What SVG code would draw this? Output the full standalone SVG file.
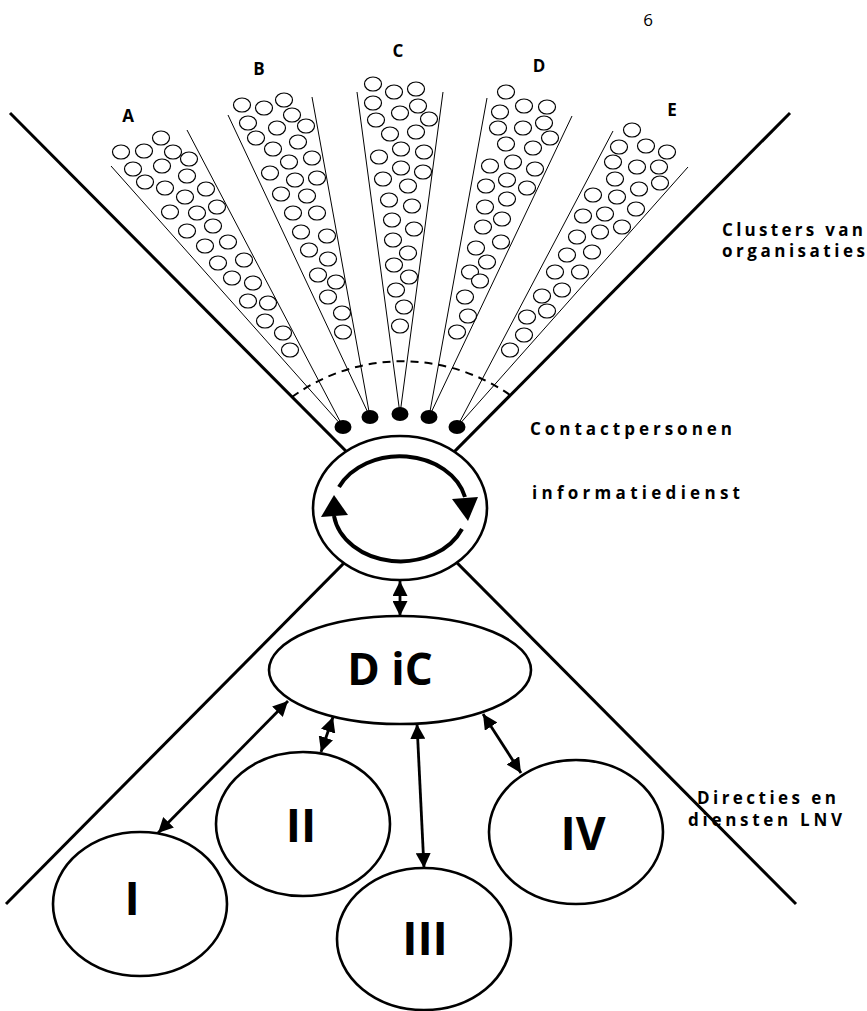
<svg xmlns="http://www.w3.org/2000/svg" width="867" height="1011" viewBox="0 0 867 1011">
<style>
  .big{stroke:#000;stroke-width:3;fill:none}
  .cone{stroke:#000;stroke-width:1;fill:none}
  .o{fill:#fff;stroke:#000;stroke-width:1.2}
  .dot{fill:#000}
  .node{fill:#fff;stroke:#000;stroke-width:2.6}
  .arr{stroke:#000;stroke-width:2.8;fill:none;marker-start:url(#ah);marker-end:url(#ah)}
  .lbl{font-family:"Open Sans","Liberation Sans",sans-serif;font-weight:bold;fill:#000}
  .side{font-size:17px}
  .letter{font-size:17px;text-anchor:middle}
  .roman{font-size:46px;text-anchor:middle}
</style>
<defs>
  <marker id="ah" viewBox="0 0 15 15" refX="15" refY="7.5" markerWidth="15" markerHeight="15" markerUnits="userSpaceOnUse" orient="auto-start-reverse">
    <path d="M0,0 L15,7.5 L0,15 z" fill="#000"/>
  </marker>
</defs>
<rect width="867" height="1011" fill="#fff"/>
<text class="lbl" x="648" y="26" style="font-size:17px;font-weight:normal;text-anchor:middle">6</text>

<g id="boundary">
  <line class="big" x1="10" y1="113" x2="796" y2="904"/>
  <line class="big" x1="790" y1="113" x2="6" y2="904"/>
</g>

<g id="cluster-A">
  <line class="cone" x1="111" y1="166" x2="343" y2="427"/>
  <line class="cone" x1="187" y1="130" x2="343" y2="427"/>
  <g>
    <ellipse class="o" cx="161" cy="138" rx="8.5" ry="7"/><ellipse class="o" cx="121" cy="152" rx="8.5" ry="7"/><ellipse class="o" cx="144" cy="151" rx="8.5" ry="7"/><ellipse class="o" cx="173" cy="152" rx="8.5" ry="7"/><ellipse class="o" cx="189" cy="159" rx="8.5" ry="7"/><ellipse class="o" cx="133" cy="169" rx="8.5" ry="7"/><ellipse class="o" cx="162" cy="166" rx="8.5" ry="7"/><ellipse class="o" cx="187" cy="176" rx="8.5" ry="7"/><ellipse class="o" cx="145" cy="182" rx="8.5" ry="7"/><ellipse class="o" cx="165" cy="188" rx="8.5" ry="7"/><ellipse class="o" cx="185" cy="197" rx="8.5" ry="7"/><ellipse class="o" cx="206" cy="189" rx="8.5" ry="7"/><ellipse class="o" cx="217" cy="207" rx="8.5" ry="7"/><ellipse class="o" cx="170" cy="212" rx="8.5" ry="7"/><ellipse class="o" cx="197" cy="213" rx="8.5" ry="7"/><ellipse class="o" cx="187" cy="231" rx="8.5" ry="7"/><ellipse class="o" cx="213" cy="226" rx="8.5" ry="7"/><ellipse class="o" cx="205" cy="246" rx="8.5" ry="7"/><ellipse class="o" cx="228" cy="242" rx="8.5" ry="7"/><ellipse class="o" cx="218" cy="263" rx="8.5" ry="7"/><ellipse class="o" cx="244" cy="260" rx="8.5" ry="7"/><ellipse class="o" cx="232" cy="278" rx="8.5" ry="7"/><ellipse class="o" cx="253" cy="283" rx="8.5" ry="7"/><ellipse class="o" cx="248" cy="301" rx="8.5" ry="7"/><ellipse class="o" cx="268" cy="303" rx="8.5" ry="7"/><ellipse class="o" cx="265" cy="321" rx="8.5" ry="7"/><ellipse class="o" cx="283" cy="333" rx="8.5" ry="7"/><ellipse class="o" cx="290" cy="350" rx="8.5" ry="7"/>
  </g>
  <ellipse class="dot" cx="343" cy="427" rx="8.5" ry="7"/>
  <text class="lbl letter" x="128" y="122">A</text>
</g>

<g id="cluster-B">
  <line class="cone" x1="228" y1="115" x2="370" y2="417"/>
  <line class="cone" x1="312" y1="97" x2="370" y2="417"/>
  <g>
    <ellipse class="o" cx="242" cy="105" rx="8.5" ry="7"/><ellipse class="o" cx="264" cy="108" rx="8.5" ry="7"/><ellipse class="o" cx="284" cy="100" rx="8.5" ry="7"/><ellipse class="o" cx="248" cy="123" rx="8.5" ry="7"/><ellipse class="o" cx="277" cy="128" rx="8.5" ry="7"/><ellipse class="o" cx="292" cy="115" rx="8.5" ry="7"/><ellipse class="o" cx="306" cy="126" rx="8.5" ry="7"/><ellipse class="o" cx="256" cy="138" rx="8.5" ry="7"/><ellipse class="o" cx="298" cy="142" rx="8.5" ry="7"/><ellipse class="o" cx="273" cy="149" rx="8.5" ry="7"/><ellipse class="o" cx="289" cy="162" rx="8.5" ry="7"/><ellipse class="o" cx="312" cy="158" rx="8.5" ry="7"/><ellipse class="o" cx="270" cy="173" rx="8.5" ry="7"/><ellipse class="o" cx="295" cy="180" rx="8.5" ry="7"/><ellipse class="o" cx="317" cy="178" rx="8.5" ry="7"/><ellipse class="o" cx="281" cy="194" rx="8.5" ry="7"/><ellipse class="o" cx="307" cy="196" rx="8.5" ry="7"/><ellipse class="o" cx="293" cy="213" rx="8.5" ry="7"/><ellipse class="o" cx="317" cy="213" rx="8.5" ry="7"/><ellipse class="o" cx="301" cy="232" rx="8.5" ry="7"/><ellipse class="o" cx="327" cy="236" rx="8.5" ry="7"/><ellipse class="o" cx="309" cy="250" rx="8.5" ry="7"/><ellipse class="o" cx="328" cy="259" rx="8.5" ry="7"/><ellipse class="o" cx="318" cy="275" rx="8.5" ry="7"/><ellipse class="o" cx="336" cy="282" rx="8.5" ry="7"/><ellipse class="o" cx="328" cy="297" rx="8.5" ry="7"/><ellipse class="o" cx="342" cy="313" rx="8.5" ry="7"/><ellipse class="o" cx="343" cy="332" rx="8.5" ry="7"/>
  </g>
  <ellipse class="dot" cx="370" cy="417" rx="8.5" ry="7"/>
  <text class="lbl letter" x="259" y="75">B</text>
</g>

<g id="cluster-C">
  <line class="cone" x1="357" y1="92" x2="400" y2="414"/>
  <line class="cone" x1="443" y1="92" x2="400" y2="414"/>
  <g>
    <ellipse class="o" cx="373" cy="84" rx="8.5" ry="7"/><ellipse class="o" cx="394" cy="92" rx="8.5" ry="7"/><ellipse class="o" cx="416" cy="89" rx="8.5" ry="7"/><ellipse class="o" cx="373" cy="103" rx="8.5" ry="7"/><ellipse class="o" cx="400" cy="113" rx="8.5" ry="7"/><ellipse class="o" cx="418" cy="106" rx="8.5" ry="7"/><ellipse class="o" cx="376" cy="120" rx="8.5" ry="7"/><ellipse class="o" cx="429" cy="119" rx="8.5" ry="7"/><ellipse class="o" cx="390" cy="134" rx="8.5" ry="7"/><ellipse class="o" cx="416" cy="132" rx="8.5" ry="7"/><ellipse class="o" cx="401" cy="149" rx="8.5" ry="7"/><ellipse class="o" cx="424" cy="152" rx="8.5" ry="7"/><ellipse class="o" cx="379" cy="157" rx="8.5" ry="7"/><ellipse class="o" cx="401" cy="168" rx="8.5" ry="7"/><ellipse class="o" cx="423" cy="172" rx="8.5" ry="7"/><ellipse class="o" cx="383" cy="179" rx="8.5" ry="7"/><ellipse class="o" cx="408" cy="186" rx="8.5" ry="7"/><ellipse class="o" cx="389" cy="200" rx="8.5" ry="7"/><ellipse class="o" cx="412" cy="206" rx="8.5" ry="7"/><ellipse class="o" cx="392" cy="220" rx="8.5" ry="7"/><ellipse class="o" cx="414" cy="229" rx="8.5" ry="7"/><ellipse class="o" cx="393" cy="240" rx="8.5" ry="7"/><ellipse class="o" cx="408" cy="253" rx="8.5" ry="7"/><ellipse class="o" cx="394" cy="265" rx="8.5" ry="7"/><ellipse class="o" cx="409" cy="277" rx="8.5" ry="7"/><ellipse class="o" cx="396" cy="290" rx="8.5" ry="7"/><ellipse class="o" cx="404" cy="307" rx="8.5" ry="7"/><ellipse class="o" cx="400" cy="326" rx="8.5" ry="7"/>
  </g>
  <ellipse class="dot" cx="400" cy="414" rx="8.5" ry="7"/>
  <text class="lbl letter" x="398" y="57">C</text>
</g>

<g id="cluster-D">
  <line class="cone" x1="487" y1="98" x2="429" y2="417"/>
  <line class="cone" x1="572" y1="116" x2="429" y2="417"/>
  <g>
    <ellipse class="o" cx="506" cy="92" rx="8.5" ry="7"/><ellipse class="o" cx="524" cy="106" rx="8.5" ry="7"/><ellipse class="o" cx="547" cy="107" rx="8.5" ry="7"/><ellipse class="o" cx="500" cy="112" rx="8.5" ry="7"/><ellipse class="o" cx="523" cy="128" rx="8.5" ry="7"/><ellipse class="o" cx="544" cy="123" rx="8.5" ry="7"/><ellipse class="o" cx="498" cy="128" rx="8.5" ry="7"/><ellipse class="o" cx="550" cy="138" rx="8.5" ry="7"/><ellipse class="o" cx="506" cy="144" rx="8.5" ry="7"/><ellipse class="o" cx="533" cy="148" rx="8.5" ry="7"/><ellipse class="o" cx="490" cy="166" rx="8.5" ry="7"/><ellipse class="o" cx="513" cy="162" rx="8.5" ry="7"/><ellipse class="o" cx="535" cy="169" rx="8.5" ry="7"/><ellipse class="o" cx="486" cy="186" rx="8.5" ry="7"/><ellipse class="o" cx="507" cy="180" rx="8.5" ry="7"/><ellipse class="o" cx="527" cy="188" rx="8.5" ry="7"/><ellipse class="o" cx="485" cy="207" rx="8.5" ry="7"/><ellipse class="o" cx="507" cy="199" rx="8.5" ry="7"/><ellipse class="o" cx="483" cy="227" rx="8.5" ry="7"/><ellipse class="o" cx="502" cy="219" rx="8.5" ry="7"/><ellipse class="o" cx="476" cy="248" rx="8.5" ry="7"/><ellipse class="o" cx="501" cy="242" rx="8.5" ry="7"/><ellipse class="o" cx="487" cy="262" rx="8.5" ry="7"/><ellipse class="o" cx="470" cy="272" rx="8.5" ry="7"/><ellipse class="o" cx="480" cy="281" rx="8.5" ry="7"/><ellipse class="o" cx="465" cy="297" rx="8.5" ry="7"/><ellipse class="o" cx="468" cy="316" rx="8.5" ry="7"/><ellipse class="o" cx="457" cy="332" rx="8.5" ry="7"/>
  </g>
  <ellipse class="dot" cx="429" cy="417" rx="8.5" ry="7"/>
  <text class="lbl letter" x="539" y="72">D</text>
</g>

<g id="cluster-E">
  <line class="cone" x1="613" y1="131" x2="457" y2="427"/>
  <line class="cone" x1="688" y1="167" x2="457" y2="427"/>
  <g>
    <ellipse class="o" cx="632" cy="130" rx="8.5" ry="7"/><ellipse class="o" cx="619" cy="147" rx="8.5" ry="7"/><ellipse class="o" cx="646" cy="146" rx="8.5" ry="7"/><ellipse class="o" cx="667" cy="152" rx="8.5" ry="7"/><ellipse class="o" cx="613" cy="162" rx="8.5" ry="7"/><ellipse class="o" cx="637" cy="167" rx="8.5" ry="7"/><ellipse class="o" cx="659" cy="167" rx="8.5" ry="7"/><ellipse class="o" cx="615" cy="179" rx="8.5" ry="7"/><ellipse class="o" cx="639" cy="189" rx="8.5" ry="7"/><ellipse class="o" cx="660" cy="183" rx="8.5" ry="7"/><ellipse class="o" cx="593" cy="195" rx="8.5" ry="7"/><ellipse class="o" cx="617" cy="197" rx="8.5" ry="7"/><ellipse class="o" cx="636" cy="209" rx="8.5" ry="7"/><ellipse class="o" cx="583" cy="216" rx="8.5" ry="7"/><ellipse class="o" cx="605" cy="214" rx="8.5" ry="7"/><ellipse class="o" cx="622" cy="227" rx="8.5" ry="7"/><ellipse class="o" cx="577" cy="237" rx="8.5" ry="7"/><ellipse class="o" cx="600" cy="232" rx="8.5" ry="7"/><ellipse class="o" cx="567" cy="255" rx="8.5" ry="7"/><ellipse class="o" cx="592" cy="252" rx="8.5" ry="7"/><ellipse class="o" cx="580" cy="272" rx="8.5" ry="7"/><ellipse class="o" cx="555" cy="272" rx="8.5" ry="7"/><ellipse class="o" cx="542" cy="296" rx="8.5" ry="7"/><ellipse class="o" cx="562" cy="290" rx="8.5" ry="7"/><ellipse class="o" cx="527" cy="317" rx="8.5" ry="7"/><ellipse class="o" cx="547" cy="311" rx="8.5" ry="7"/><ellipse class="o" cx="524" cy="335" rx="8.5" ry="7"/><ellipse class="o" cx="510" cy="350" rx="8.5" ry="7"/>
  </g>
  <ellipse class="dot" cx="457" cy="427" rx="8.5" ry="7"/>
  <text class="lbl letter" x="672" y="116">E</text>
</g>

<path id="contact-boundary" d="M292,397 A188.5,188.5 0 0 1 510,395" fill="none" stroke="#000" stroke-width="2" stroke-dasharray="8 6"/>

<g id="informatiedienst">
  <ellipse class="node" cx="400" cy="508" rx="87" ry="72" stroke-width="3"/>
  <path d="M339,487 A67,53 0 0 1 465,497" fill="none" stroke="#000" stroke-width="4"/>
  <path d="M452,499 L478,497 L468,521 z" fill="#000"/>
  <path d="M462,529 A67,53 0 0 1 334,516" fill="none" stroke="#000" stroke-width="4"/>
  <path d="M321,517 L348,515 L334,495 z" fill="#000"/>
</g>

<g id="DiC">
  <ellipse class="node" cx="400" cy="670" rx="131" ry="54"/>
  <text class="lbl" x="390" y="685" style="font-size:44px;text-anchor:middle">D iC</text>
</g>

<g id="node-I">
  <ellipse class="node" cx="140" cy="904" rx="87" ry="72"/>
  <text class="lbl roman" x="132" y="915">I</text>
</g>
<g id="node-II">
  <ellipse class="node" cx="303" cy="824" rx="87" ry="72"/>
  <text class="lbl roman" x="301" y="842">II</text>
</g>
<g id="node-III">
  <ellipse class="node" cx="424" cy="939" rx="87" ry="71"/>
  <text class="lbl roman" x="425" y="955">III</text>
</g>
<g id="node-IV">
  <ellipse class="node" cx="576" cy="832" rx="87" ry="72"/>
  <text class="lbl roman" x="583" y="850">IV</text>
</g>

<g id="connectors">
  <line class="arr" x1="400" y1="581" x2="400" y2="616"/>
  <line class="arr" x1="288" y1="701" x2="158" y2="833"/>
  <line class="arr" x1="333" y1="717" x2="321" y2="752"/>
  <line class="arr" x1="417" y1="724" x2="424" y2="868"/>
  <line class="arr" x1="483" y1="714" x2="521" y2="773"/>
</g>

<g id="labels">
  <text class="lbl side" x="722" y="236" textLength="141" lengthAdjust="spacing">Clusters van</text>
  <text class="lbl side" x="722" y="257" textLength="143" lengthAdjust="spacing">organisaties</text>
  <text class="lbl side" x="530" y="435" textLength="202" lengthAdjust="spacing">Contactpersonen</text>
  <text class="lbl side" x="532" y="499" textLength="208" lengthAdjust="spacing">informatiedienst</text>
  <text class="lbl side" x="697" y="804" textLength="139" lengthAdjust="spacing">Directies en</text>
  <text class="lbl side" x="688" y="826" textLength="154" lengthAdjust="spacing">diensten LNV</text>
</g>
</svg>
